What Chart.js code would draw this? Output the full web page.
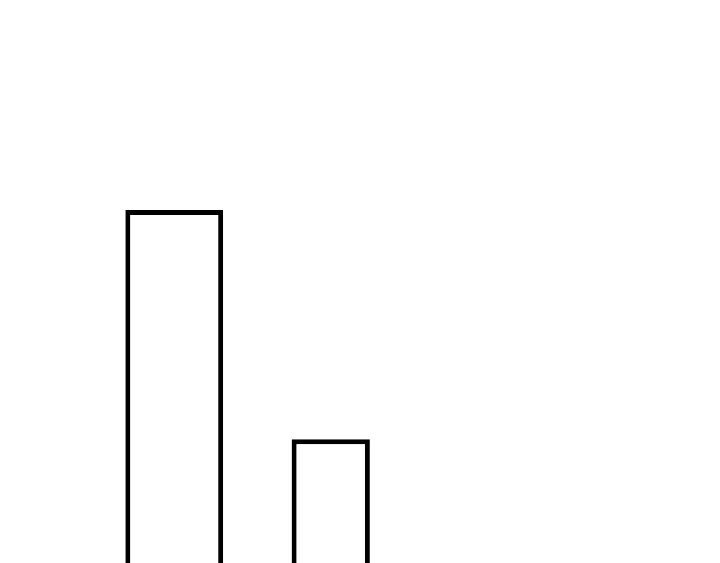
<!DOCTYPE html>
<html>
<head>
<meta charset="utf-8">
<script src="https://cdn.jsdelivr.net/npm/chart.js@4"></script>
<style>
  html, body { margin: 0; padding: 0; background: #fff; }
  #wrap { width: 720px; height: 563px; }
</style>
</head>
<body>
<div id="wrap"><canvas id="bars-chart"></canvas></div>
<script>
const categories = ['A', 'B'];
const firstValues = [62.7, null];
const secondValues = [null, 22.0];

const barsChart = document.getElementById('bars-chart').getContext('2d');

const barsData = {
  labels: categories,
  datasets: [{
    data: firstValues,
    backgroundColor: '#ffffff',
    borderColor: '#000000',
    borderWidth: 5,
    grouped: false,
    categoryPercentage: 1,
    barPercentage: 0.625
  }, {
    data: secondValues,
    backgroundColor: '#ffffff',
    borderColor: '#000000',
    borderWidth: 5,
    grouped: false,
    categoryPercentage: 1,
    barPercentage: 0.50
  }]
};

const barsConfig = {
  type: 'bar',
  data: barsData,
  options: {
    responsive: true,
    maintainAspectRatio: false,
    animation: false,
    layout: {
      padding: { left: 96, right: 311, top: 0, bottom: 0 }
    },
    scales: {
      x: { display: false },
      y: { display: false, min: 0, max: 100 }
    },
    plugins: {
      legend: { display: false },
      tooltip: { enabled: false }
    }
  }
};

new Chart(barsChart, barsConfig);
</script>
</body>
</html>
